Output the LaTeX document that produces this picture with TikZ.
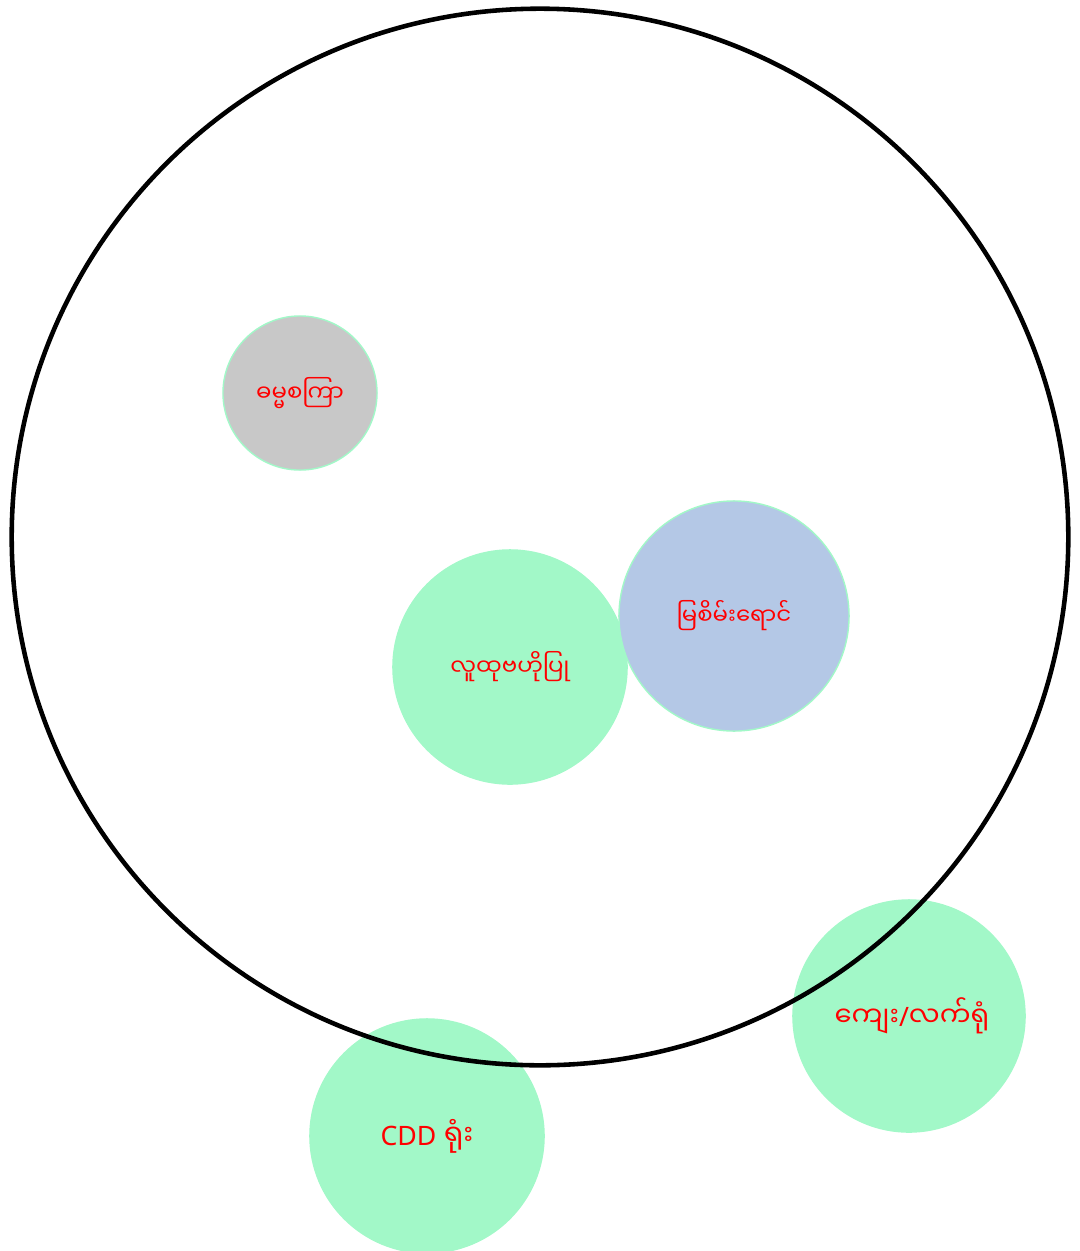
\documentclass[tikz,border=0pt]{standalone}
\usepackage{fontspec}
\newfontfamily\mmfont[Script=Myanmar]{Noto Sans Myanmar UI}
\newfontfamily\latinfont{Noto Sans}
\usepackage{tikz}
\usetikzlibrary{positioning}
\definecolor{mint}{HTML}{A2F8C8}
\definecolor{greyfill}{HTML}{C8C8C8}
\definecolor{paleblue}{HTML}{B4C8E6}
\newcommand{\lat}[1]{{\latinfont\fontsize{7.6}{9}\selectfont #1}}

\begin{document}
\begin{tikzpicture}[x=0.01cm, y=-0.01cm,
    bubble/.style={circle, fill=mint, draw=mint, line width=0.4pt, inner sep=0pt,
        text=red, font=\mmfont\fontsize{6.5}{8}\selectfont},
    bigtext/.style={font=\mmfont\fontsize{8.2}{10}\selectfont},
    outer/.style={circle, draw=black, line width=1.3pt, inner sep=0pt, minimum size=10.56cm}]
            \useasboundingbox (0,0) rectangle (1080,1251);
            % Bubbles
            \node[bubble, minimum size=2.34cm] (people) at (510,667) {လူထုဗဟိုပြု};
            \node[bubble, minimum size=2.30cm, fill=paleblue] (emerald) at (734,616) {မြစိမ်းရောင်};
            \node[bubble, minimum size=1.54cm, fill=greyfill] (dhamma) at (300,393) {ဓမ္မစကြာ};
            \node[bubble, minimum size=2.32cm] (village) at (909,1016) {};
            \node[bubble, bigtext, minimum size=2.34cm] (cdd) at (427,1136) {\lat{CDD} ရုံး};

            \begin{scope}
                \clip (780,960) rectangle (990,1070);
                \node[bubble, font=\mmfont\fontsize{7.8}{10}\selectfont, fill=none, draw=none, anchor=west] (villagetext) at (832,1016) {ကျေး\lat{/}လက်ရုံး};
            \end{scope}

            % Boundary
            \node[outer] (region) at (540,537) {};
        \end{tikzpicture}
\end{document}
